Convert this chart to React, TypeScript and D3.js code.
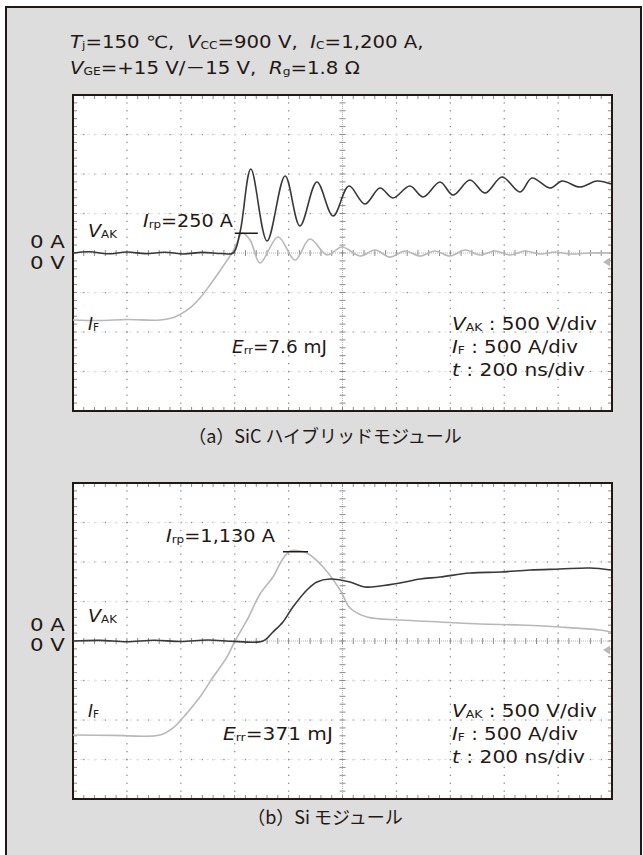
import React, { useRef, useEffect } from "react";
import * as d3 from "d3";

const W = 643;
const H = 855;
const FONT = "'DejaVu Sans', 'Noto Sans CJK JP', sans-serif";
const JP_FONT = "'Noto Sans CJK JP', sans-serif";
const INK = "#231815";

// scope grid: 200 ns/div (10 div), 500 V or A /div (8 div)
const timeDivs = [0, 200, 400, 600, 800, 1000, 1200, 1400, 1600, 1800, 2000];
const levelDivs = [-2000, -1500, -1000, -500, 0, 500, 1000, 1500, 2000];

// (a) SiC hybrid module, [ns, V]
const sicVak: [number, number][] = [
  [0, 0], [60, 15], [130, -10], [200, 12], [270, -8], [340, 10], [410, -12], [480, 8], [550, -6], [594, 0],
  [620, 266], [660, 1063], [720, 152], [787, 975], [842, 342], [905, 899], [965, 468], [1024, 848],
  [1083, 620], [1139, 823], [1187, 696], [1250, 848], [1299, 709], [1362, 899], [1410, 734], [1473, 924],
  [1529, 759], [1592, 962], [1659, 772], [1703, 949], [1770, 823], [1815, 911], [1881, 835], [1944, 911],
  [1996, 873],
];
// (a) SiC hybrid module, [ns, A]
const sicIf: [number, number][] = [
  [0, -848], [100, -855], [200, -842], [323, -848], [378, -810], [434, -696], [471, -570], [508, -405],
  [545, -228], [575, -76], [590, 0], [609, 127], [627, 253], [657, 165], [694, -127], [761, 203],
  [824, -89], [879, 177], [943, -25], [998, 76], [1065, -38], [1121, 38], [1176, -51], [1232, 25],
  [1288, -38], [1343, 25], [1399, -38], [1455, 38], [1510, -25], [1566, 25], [1622, -25], [1677, 25],
  [1733, -13], [1789, 13], [1844, -13], [1919, 0], [1996, 0],
];
// (b) Si module, [ns, V]
const siVak: [number, number][] = [
  [0, 0], [100, 8], [200, -10], [300, 10], [400, -6], [500, 12], [600, -5], [705, 0], [742, 114],
  [779, 241], [816, 430], [868, 646], [905, 747], [954, 785], [1028, 747], [1083, 684], [1139, 696],
  [1213, 734], [1288, 785], [1362, 810], [1473, 861], [1585, 873], [1696, 899], [1807, 911],
  [1918, 924], [1996, 899],
];
// (b) Si module, [ns, A]
const siIf: [number, number][] = [
  [0, -1190], [150, -1195], [323, -1190], [371, -1101], [423, -911], [471, -709], [520, -456],
  [571, -203], [601, 0], [646, 266], [694, 595], [742, 810], [776, 1025], [805, 1139], [842, 1139],
  [868, 1114], [928, 937], [991, 646], [1028, 418], [1091, 304], [1213, 266], [1362, 241],
  [1510, 215], [1659, 203], [1807, 177], [1955, 139], [1996, 114],
];

type Part = { t: string; i?: boolean; s?: boolean };

const SP = "\u00a0\u00a0";
const headerLines: Part[][] = [
  [
    { t: "T", i: true }, { t: "j", s: true }, { t: "=150 ℃," + SP },
    { t: "V", i: true }, { t: "CC", s: true }, { t: "=900 V," + SP },
    { t: "I", i: true }, { t: "C", s: true }, { t: "=1,200 A," },
  ],
  [
    { t: "V", i: true }, { t: "GE", s: true }, { t: "=+15 V/－15 V," + SP },
    { t: "R", i: true }, { t: "g", s: true }, { t: "=1.8 Ω" },
  ],
];
const headerWidths = [354, 290];

const scaleLines: Part[][] = [
  [{ t: "V", i: true }, { t: "AK", s: true }, { t: "\u00a0: 500 V/div" }],
  [{ t: "I", i: true }, { t: "F", s: true }, { t: "\u00a0: 500 A/div" }],
  [{ t: "t", i: true }, { t: "\u00a0: 200 ns/div" }],
];
const scaleWidths = [145, 126, 133];

const panels = [
  {
    top: 95,
    caption: "（a）SiC ハイブリッドモジュール",
    captionY: 443,
    vak: sicVak,
    iff: sicIf,
    irp: "=250 A",
    irpValue: 250,
    irpSpan: [600, 686],
    err: "=7.6 mJ",
    labels: { vak: 237, irpX: 143, irpY: 227, irpW: 90, iff: 330, errX: 232, errY: 353, errW: 95, zeroA: 248, zeroV: 269 },
  },
  {
    top: 483,
    caption: "（b）Si モジュール",
    captionY: 824,
    vak: siVak,
    iff: siIf,
    irp: "=1,130 A",
    irpValue: 1130,
    irpSpan: [779, 872],
    err: "=371 mJ",
    labels: { vak: 622, irpX: 166, irpY: 542, irpW: 109, iff: 717, errX: 223, errY: 740, errW: 110, zeroA: 631, zeroV: 651 },
  },
];

function addRich(g: any, x: number, y: number, parts: Part[], size = 17, anchor = "start", width = 0) {
  const text = g
    .append("text")
    .attr("x", x)
    .attr("y", y)
    .attr("font-size", size)
    .attr("text-anchor", anchor)
    .attr("fill", INK);
  let shifted = false;
  parts.forEach((p) => {
    const ts = text.append("tspan").text(p.t);
    if (p.i) ts.attr("font-style", "italic");
    if (p.s) {
      ts.attr("font-size", size * 0.62);
      if (!shifted) {
        ts.attr("dy", 1.5);
        shifted = true;
      }
    } else if (shifted) {
      ts.attr("dy", -1.5);
      shifted = false;
    }
  });
  if (width) {
    // stretch to the wide lettering of the original
    const w = text.node().getComputedTextLength();
    if (w > 0) {
      const sx = width / w;
      text.attr("transform", `translate(${x},0) scale(${sx},1) translate(${-x},0)`);
    }
  }
  return text;
}

const App = () => {
  const svgRef = useRef<SVGSVGElement>(null);

  useEffect(() => {
    const svg = d3.select(svgRef.current);
    svg.selectAll("*").remove();
    svg.attr("font-family", FONT);

    // outer frame
    svg
      .append("rect")
      .attr("x", 6)
      .attr("y", 7)
      .attr("width", 635)
      .attr("height", 870)
      .attr("fill", "#dcdddc")
      .attr("stroke", INK)
      .attr("stroke-width", 2);

    headerLines.forEach((ln, i) => addRich(svg, 70, 48 + i * 26, ln, 17, "start", headerWidths[i]));

    const left = 73;
    const right = 612;
    const plotH = 316;

    panels.forEach((p) => {
      const x = d3.scaleLinear().domain([0, 2000]).range([left, right]);
      const y = d3.scaleLinear().domain([-2000, 2000]).range([p.top + plotH, p.top]);
      const g = svg.append("g");

      g.append("rect")
        .attr("x", left)
        .attr("y", p.top)
        .attr("width", right - left)
        .attr("height", plotH)
        .attr("fill", "#fff");

      const minorT = d3.range(0, 2001, 40);
      const minorL = d3.range(-2000, 2001, 100);

      // dotted grid
      timeDivs.slice(1, -1).filter((t) => t !== 1000).forEach((t) => {
        g.selectAll(null)
          .data(minorL)
          .join("rect")
          .attr("x", x(t) - 0.6)
          .attr("y", (d) => y(d) - 0.6)
          .attr("width", 1.3)
          .attr("height", 1.3)
          .attr("fill", "#8c8c8c");
      });
      levelDivs.slice(1, -1).filter((l) => l !== 0).forEach((l) => {
        g.selectAll(null)
          .data(minorT)
          .join("rect")
          .attr("x", (d) => x(d) - 0.6)
          .attr("y", y(l) - 0.6)
          .attr("width", 1.3)
          .attr("height", 1.3)
          .attr("fill", "#8c8c8c");
        g.append("line")
          .attr("x1", x(0)).attr("x2", x(2000))
          .attr("y1", y(l)).attr("y2", y(l))
          .attr("stroke", "#e6e6e6").attr("stroke-dasharray", "3,4");
      });

      // center cross with minor ticks
      g.append("line")
        .attr("x1", x(1000)).attr("x2", x(1000))
        .attr("y1", y(-2000)).attr("y2", y(2000))
        .attr("stroke", "#b4b4b4").attr("stroke-dasharray", "1,1");
      g.append("line")
        .attr("x1", x(0)).attr("x2", x(2000))
        .attr("y1", y(0)).attr("y2", y(0))
        .attr("stroke", "#b4b4b4").attr("stroke-dasharray", "1,1");
      g.selectAll(null)
        .data(minorL)
        .join("line")
        .attr("x1", x(1000) - 3).attr("x2", x(1000) + 3)
        .attr("y1", (d) => y(d)).attr("y2", (d) => y(d))
        .attr("stroke", "#8c8c8c");
      g.selectAll(null)
        .data(minorT)
        .join("line")
        .attr("x1", (d) => x(d)).attr("x2", (d) => x(d))
        .attr("y1", y(0) - 3).attr("y2", y(0) + 3)
        .attr("stroke", "#8c8c8c");

      // border ticks
      g.selectAll(null)
        .data(minorT)
        .join("path")
        .attr("d", (d) => `M${x(d)},${p.top}v4M${x(d)},${p.top + plotH}v-4`)
        .attr("stroke", "#8c8c8c");
      g.selectAll(null)
        .data(minorL)
        .join("path")
        .attr("d", (d) => `M${left},${y(d)}h4M${right},${y(d)}h-4`)
        .attr("stroke", "#8c8c8c");

      g.append("rect")
        .attr("x", left)
        .attr("y", p.top)
        .attr("width", right - left)
        .attr("height", plotH)
        .attr("fill", "none")
        .attr("stroke", INK)
        .attr("stroke-width", 2);

      // ground marker
      g.append("path")
        .attr("d", `M${right - 9},${y(0) + 9}l7,-4.5v9z`)
        .attr("fill", "#b8b8b8");

      const trace = d3
        .line<[number, number]>()
        .x((d) => x(d[0]))
        .y((d) => y(d[1]))
        .curve(d3.curveCatmullRom.alpha(0.5));

      g.append("path")
        .attr("d", trace(p.iff))
        .attr("fill", "none")
        .attr("stroke", "#b8b8b8")
        .attr("stroke-width", 1.6);
      g.append("path")
        .attr("d", trace(p.vak))
        .attr("fill", "none")
        .attr("stroke", "#383838")
        .attr("stroke-width", 1.6);

      // Irp marker
      g.append("line")
        .attr("x1", x(p.irpSpan[0]))
        .attr("x2", x(p.irpSpan[1]))
        .attr("y1", y(p.irpValue))
        .attr("y2", y(p.irpValue))
        .attr("stroke", INK)
        .attr("stroke-width", 1.5);

      const lb = p.labels;
      addRich(svg, 65, lb.zeroA, [{ t: "0 A" }], 17, "end", 35);
      addRich(svg, 65, lb.zeroV, [{ t: "0 V" }], 17, "end", 35);
      addRich(svg, 88, lb.vak, [{ t: "V", i: true }, { t: "AK", s: true }], 17, "start", 29);
      addRich(svg, lb.irpX, lb.irpY, [{ t: "I", i: true }, { t: "rp", s: true }, { t: p.irp }], 17, "start", lb.irpW);
      addRich(svg, 88, lb.iff, [{ t: "I", i: true }, { t: "F", s: true }], 17, "start", 11);
      addRich(svg, lb.errX, lb.errY, [{ t: "E", i: true }, { t: "rr", s: true }, { t: p.err }], 17, "start", lb.errW);
      scaleLines.forEach((ln, i) => addRich(svg, 452, lb.iff + i * 23, ln, 17, "start", scaleWidths[i]));

      svg
        .append("text")
        .attr("x", 325)
        .attr("y", p.captionY)
        .attr("text-anchor", "middle")
        .attr("font-family", JP_FONT)
        .attr("font-size", 18)
        .attr("fill", INK)
        .text(p.caption);
    });
  }, []);

  return (
    <svg
      ref={svgRef}
      width={W}
      height={H}
      style={{ position: "absolute", left: 0, top: 0, background: "#fff" }}
    />
  );
};

export default App;
